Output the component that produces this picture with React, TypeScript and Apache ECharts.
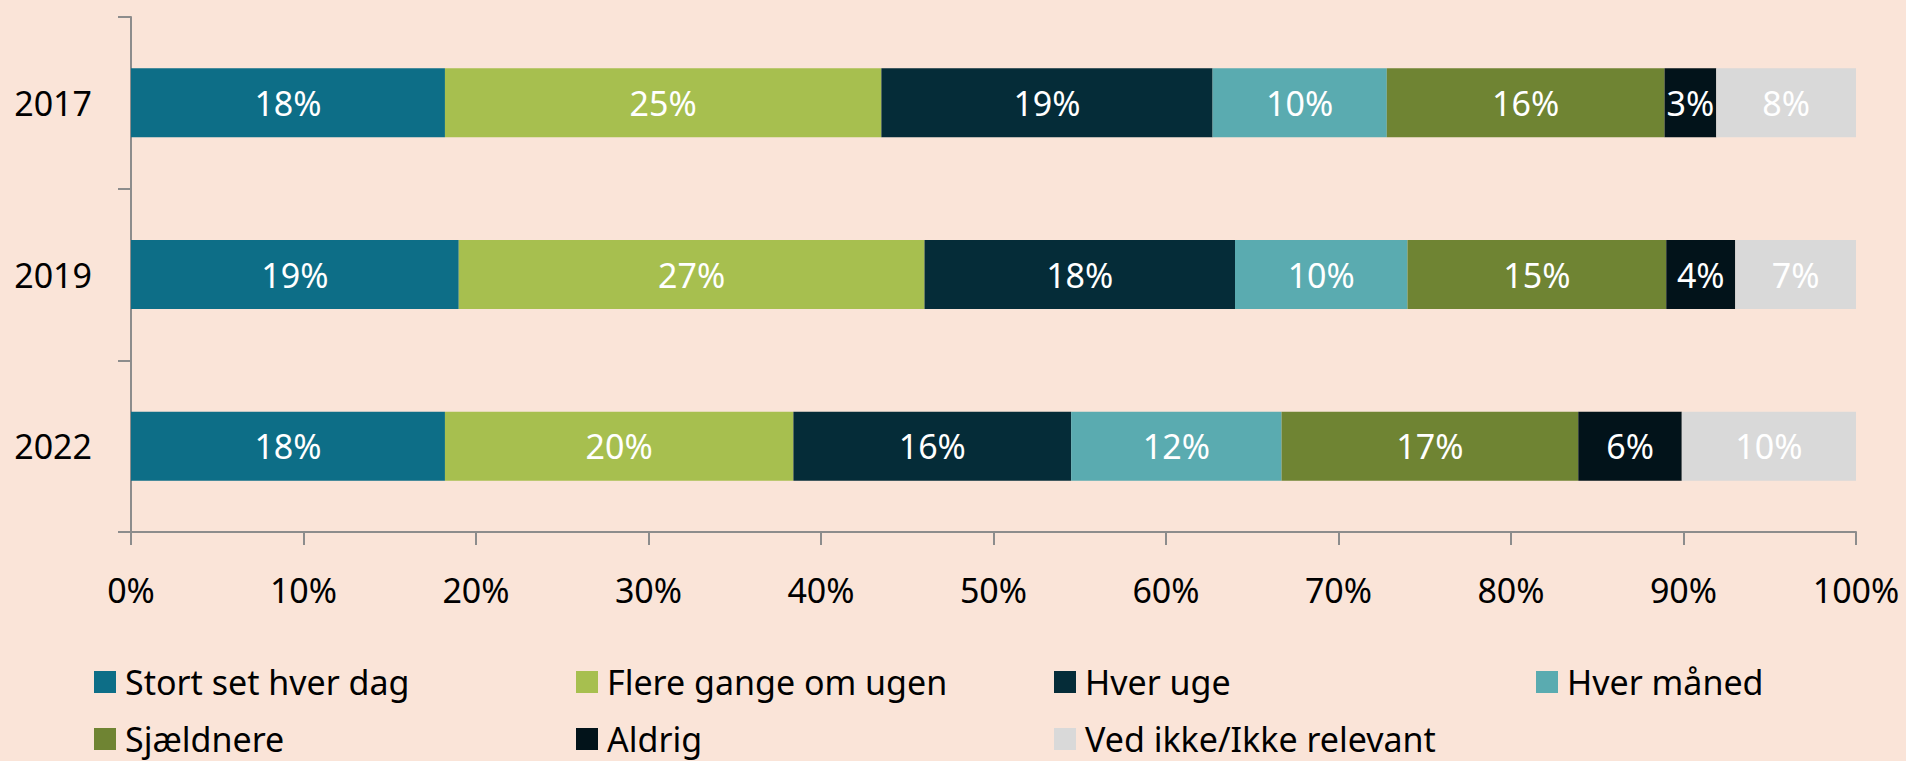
import React, { useEffect, useRef } from "react";
import * as echarts from "echarts";

const years = ["2017", "2019", "2022"];
const seriesNames = [
  "Stort set hver dag",
  "Flere gange om ugen",
  "Hver uge",
  "Hver måned",
  "Sjældnere",
  "Aldrig",
  "Ved ikke/Ikke relevant",
];
const stortSet = [18.2, 19.0, 18.2];
const flereGange = [25.3, 27.0, 20.2];
const hverUge = [19.2, 18.0, 16.1];
const hverMaaned = [10.1, 10.0, 12.2];
const sjaeldnere = [16.1, 15.0, 17.2];
const aldrig = [3.0, 4.0, 6.0];
const vedIkke = [8.1, 7.0, 10.1];
const xTicks = [0, 10, 20, 30, 40, 50, 60, 70, 80, 90, 100];

const values = [stortSet, flereGange, hverUge, hverMaaned, sjaeldnere, aldrig, vedIkke];
const colors = ["#0d6e87", "#a7bf4f", "#052c38", "#5aabb0", "#6f8433", "#02131a", "#d9d9d9"];

const FONT = "'Noto Sans', 'Open Sans', sans-serif";
const FS = 34;

export default function App() {
  const ref = useRef<HTMLDivElement>(null);
  useEffect(() => {
    if (!ref.current) return;
    const chart = echarts.init(ref.current, undefined, { renderer: "svg" });
    const legendPos = [
      { left: 94, top: 664 },
      { left: 576, top: 664 },
      { left: 1054, top: 664 },
      { left: 1536, top: 664 },
      { left: 94, top: 721 },
      { left: 576, top: 721 },
      { left: 1054, top: 721 },
    ];
    chart.setOption({
      animation: false,
      backgroundColor: "#fae4d8",
      textStyle: { fontFamily: FONT },
      grid: { left: 131, right: 50, top: 17, bottom: 229, containLabel: false },
      xAxis: {
        type: "value",
        min: 0,
        max: 100,
        interval: 10,
        axisLine: { show: true, lineStyle: { color: "#8c8c8c", width: 2 } },
        axisTick: { show: true, length: 13, lineStyle: { color: "#8c8c8c", width: 2 } },
        splitLine: { show: false },
        axisLabel: {
          margin: 41,
          fontSize: FS,
          color: "#000",
          fontFamily: FONT,
          formatter: (v: number) => (xTicks.includes(v) ? `${v}%` : ""),
        },
      },
      yAxis: {
        type: "category",
        data: years,
        inverse: true,
        axisLine: { show: true, lineStyle: { color: "#8c8c8c", width: 2 } },
        axisTick: { show: true, length: 13, lineStyle: { color: "#8c8c8c", width: 2 } },
        axisLabel: { margin: 39, fontSize: FS, color: "#000", fontFamily: FONT },
      },
      legend: seriesNames.map((n, i) => ({
        data: [n],
        left: legendPos[i].left,
        top: legendPos[i].top,
        icon: "rect",
        itemWidth: 22,
        itemHeight: 22,
        itemGap: 0,
        padding: 0,
        selectedMode: false,
        textStyle: {
          fontSize: FS,
          lineHeight: 36,
          color: "#000",
          fontFamily: FONT,
          padding: [0, 0, 0, 4],
        },
      })),
      series: seriesNames.map((n, i) => ({
        name: n,
        type: "bar",
        stack: "total",
        barWidth: 69,
        itemStyle: { color: colors[i] },
        data: values[i],
        label: {
          show: true,
          position: "inside",
          color: "#fff",
          fontSize: FS,
          fontFamily: FONT,
          formatter: (p: any) => `${Math.round(p.value)}%`,
        },
      })),
    });
    return () => chart.dispose();
  }, []);
  return (
    <div
      ref={ref}
      style={{ position: "fixed", left: 0, top: 0, width: 1906, height: 761 }}
    />
  );
}
